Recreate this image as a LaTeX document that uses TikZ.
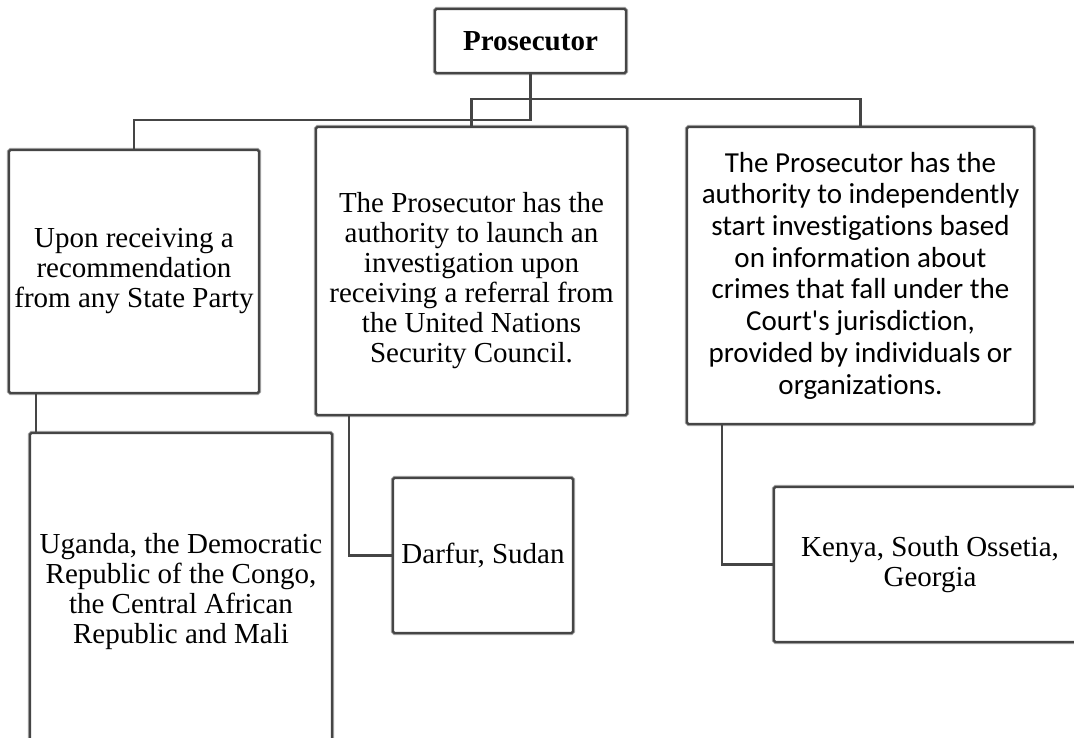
\documentclass[tikz,border=0pt]{standalone}
\usepackage{fontspec}
\setmainfont{Liberation Serif}
\newfontfamily\calfont[Ligatures=NoCommon]{Carlito}
\definecolor{edge}{HTML}{454545}
\definecolor{halo}{HTML}{A8A8A8}
\begin{document}
\begin{tikzpicture}[x=1pt,y=-1pt,
  box/.style={draw=edge, line width=2.2pt, fill=white, rounded corners=1.5pt,
    preaction={draw=halo, line width=4.2pt},
    inner sep=0pt, align=center, font=\fontsize{29}{30}\selectfont},
  txt/.style={inner sep=0pt, align=center, font=\fontsize{29}{30}\selectfont},
  link/.style={draw=edge, line width=2.5pt}]
\clip (0,0) rectangle (1074,738);
\fill[white] (0,0) rectangle (1074,738);

\node[box, minimum width=191, minimum height=64, font=\bfseries\fontsize{29}{30}\selectfont] (P) at (530.5,41) {Prosecutor};

\node[box, minimum width=250, minimum height=243] (L) at (134,271.5)
  {Upon receiving a\\recommendation\\from any State Party};
\node[box, minimum width=311, minimum height=288] (M) at (471.5,271) {};
\node[txt] (Mt) at ([yshift=-10pt]M.center)
  {The Prosecutor has the\\authority to launch an\\investigation upon\\receiving a referral from\\the United Nations\\Security Council.};
\node[box, minimum width=347, minimum height=297, font=\calfont\fontsize{29}{31.7}\selectfont] (R) at (860.5,275.5)
  {The Prosecutor has the\\authority to independently\\start investigations based\\on information about\\crimes that fall under the\\Court's jurisdiction,\\provided by individuals or\\organizations.};

\node[box, minimum width=302, minimum height=317] (U) at (181,591.5)
  {Uganda, the Democratic\\Republic of the Congo,\\the Central African\\Republic and Mali};
\node[box, minimum width=180, minimum height=155] (D) at (483,555.5)
  {Darfur, Sudan};
\node[box, minimum width=312, minimum height=155] (K) at (930,564.5)
  {Kenya, South Ossetia,\\Georgia};

\coordinate (j1) at ([yshift=-46pt]P.south);
\coordinate (j2) at ([yshift=-25pt]P.south);
\draw[link] (P.south) -- (j1) -| (L.north);
\draw[link] (M.north) |- (j2) -| (R.north);
\draw[link] (P.south) -- (j2);

\coordinate (l1) at ([xshift=28pt]L.south west);
\draw[link] (l1) -- (l1 |- U.north);
\draw[link] ([xshift=34pt]M.south west) |- (D.west);
\draw[link] ([xshift=36pt]R.south west) |- (K.west);
\end{tikzpicture}
\end{document}
